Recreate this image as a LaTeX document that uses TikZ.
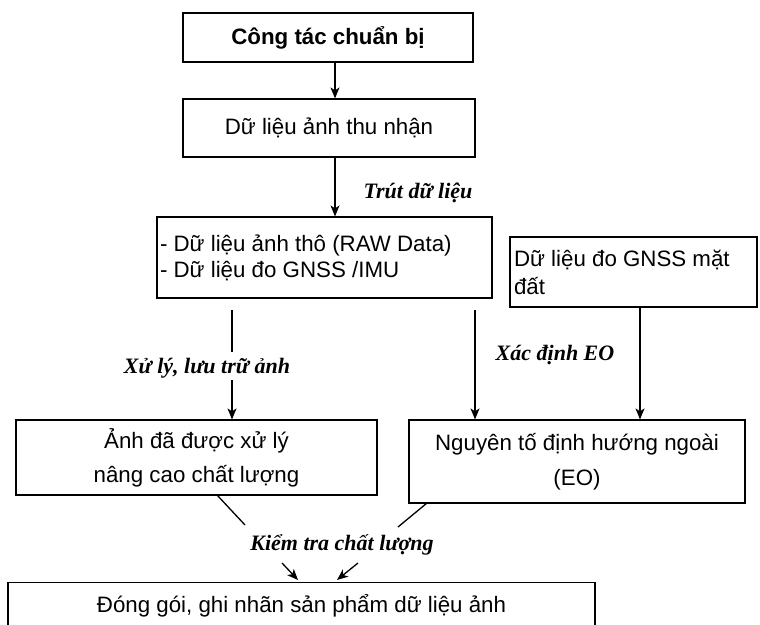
\documentclass[tikz,border=0pt]{standalone}
\usepackage{fontspec}
\setmainfont{Liberation Serif}
\setsansfont{Liberation Sans}
\usetikzlibrary{arrows.meta,positioning}
\tikzset{
  boxn/.style={draw, line width=1.2pt, inner sep=0pt, font=\sffamily\fontsize{22.3}{26}\selectfont},
  lab/.style={font=\bfseries\itshape\fontsize{22}{26}\selectfont, inner sep=0pt},
  arr/.style={line width=1.3pt, -{Stealth[length=11pt,width=9pt,inset=3pt]}},
  ln/.style={line width=1.3pt}
}
\begin{document}
\begin{tikzpicture}[x=1pt,y=-1pt]
\useasboundingbox (0,0) rectangle (760,624);
\clip (0,0) rectangle (760,624);
\fill[white] (0,0) rectangle (760,624);
% boxes
\node[boxn, minimum width=290pt, minimum height=49pt] (b1) at (328,37.5) {\bfseries Công tác chuẩn bị};
\node[boxn, minimum width=292pt, minimum height=58pt] (b2) at (329,128) {Dữ liệu ảnh thu nhận};
\node[boxn, minimum width=335pt, minimum height=81pt] (b3) at (324.5,257.5)
  {\raisebox{1pt}{\parbox{329pt}{- Dữ liệu ảnh thô (RAW Data)\\- Dữ liệu đo GNSS /IMU}}};
\node[boxn, minimum width=247pt, minimum height=70pt] (b4) at (633.5,272)
  {\raisebox{-1pt}{\parbox{239pt}{\baselineskip=28pt Dữ liệu đo GNSS mặt\\đất}}};
\node[boxn, minimum width=361pt, minimum height=75pt] (b5) at (196.5,457.5)
  {\raisebox{1pt}{\parbox{355pt}{\centering\baselineskip=34pt Ảnh đã được xử lý\\nâng cao chất lượng}}};
\node[boxn, minimum width=336pt, minimum height=83pt] (b6) at (577,461.5)
  {\raisebox{5pt}{\parbox{330pt}{\centering\baselineskip=35pt Nguyên tố định hướng ngoài\\(EO)}}};
\node[boxn, minimum width=587pt, minimum height=52pt, anchor=north] (b7) at (301.5,582)
  {\raisebox{10pt}{Đóng gói, ghi nhãn sản phẩm dữ liệu ảnh}};
% labels
\node[lab] (l1) at (418,193) {Trút dữ liệu};
\node[lab] (l2) at (207,368) {Xử lý, lưu trữ ảnh};
\node[lab] (l3) at (555,355) {Xác định EO};
\node[lab] (l4) at (342,545) {Kiểm tra chất lượng};
% coordinates
\coordinate (c1a) at (232,310);
\coordinate (c1b) at (232,352);
\coordinate (c1c) at (232,380);
\coordinate (c2a) at (475,310);
\coordinate (d1) at (245,525);
\coordinate (d2) at (398,527);
\coordinate (e1) at (282,563);
\coordinate (e2) at (358,563);
% connectors
\draw[arr] (b1.south -| 335,0) -- (b2.north -| 335,0);
\draw[arr] (b2.south -| 335,0) -- (b3.north -| 335,0);
\draw[ln] (c1a) -- (c1b);
\draw[arr] (c1c) -- (b5.north -| c1c);
\draw[arr] (c2a) -- (b6.north -| c2a);
\draw[arr] (b4.south -| 640,0) -- (b6.north -| 640,0);
\draw[ln] (217,495) -- (d1);
\draw[ln] (427,503) -- (d2);
\draw[arr] (e1) -- (298,580);
\draw[arr] (e2) -- (337,580);
\end{tikzpicture}
\end{document}
